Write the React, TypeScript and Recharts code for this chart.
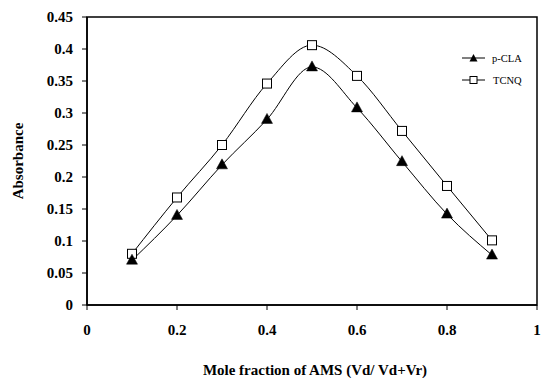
import React from 'react';
import { LineChart, Line, XAxis, YAxis, ReferenceArea } from 'recharts';

const moleFraction = [0.1, 0.2, 0.3, 0.4, 0.5, 0.6, 0.7, 0.8, 0.9];
const pCLA = [0.07, 0.14, 0.219, 0.29, 0.372, 0.308, 0.224, 0.142, 0.078];
const TCNQ = [0.08, 0.168, 0.25, 0.346, 0.406, 0.358, 0.272, 0.186, 0.101];
const xTicks = [0, 0.2, 0.4, 0.6, 0.8, 1];
const yTicks = [0, 0.05, 0.1, 0.15, 0.2, 0.25, 0.3, 0.35, 0.4, 0.45];
const seriesNames = ['p-CLA', 'TCNQ'];

const data = moleFraction.map((x, i) => ({ x, pCLA: pCLA[i], TCNQ: TCNQ[i] }));

const FONT = '"Liberation Serif", "Times New Roman", serif';

const Triangle = (props: any) => {
  const { cx, cy, index } = props;
  if (cx == null || cy == null) return <g key={`t-${index}`} />;
  const w = 11, h = 10;
  return (
    <path
      key={`t-${index}`}
      d={`M${cx},${cy - h / 2 - 1} L${cx + w / 2},${cy + h / 2 - 1} L${cx - w / 2},${cy + h / 2 - 1} Z`}
      fill="#000"
      stroke="#000"
      strokeWidth={0.5}
    />
  );
};

const Square = (props: any) => {
  const { cx, cy, index } = props;
  if (cx == null || cy == null) return <g key={`s-${index}`} />;
  const s = 9;
  return (
    <rect key={`s-${index}`} x={cx - s / 2} y={cy - s / 2} width={s} height={s} fill="#fff" stroke="#000" strokeWidth={1} />
  );
};

const LegendBox = () => (
  <svg width={80} height={40} style={{ position: 'absolute', left: 460, top: 50, overflow: 'visible' }}>
    <g>
      <line x1={2} y1={8} x2={25} y2={8} stroke="#000" strokeWidth={1} />
      <path d="M13.5,4 L17.5,11.5 L9.5,11.5 Z" fill="#000" />
      <text x={32} y={12} fontFamily={FONT} fontSize={10.5} fill="#000">{seriesNames[0]}</text>
    </g>
    <g>
      <line x1={2} y1={30} x2={25} y2={30} stroke="#000" strokeWidth={1} />
      <rect x={10} y={26.5} width={7} height={7} fill="#fff" stroke="#000" strokeWidth={1} />
      <text x={33} y={34} fontFamily={FONT} fontSize={10.5} fill="#000">{seriesNames[1]}</text>
    </g>
  </svg>
);

const tickStyle = { fontFamily: FONT, fontSize: 15, fontWeight: 'bold', fill: '#000' } as any;

export default function App() {
  return (
    <div style={{ position: 'absolute', left: 0, top: 0, width: 541, height: 378, background: '#fff' }}>
      <LineChart width={541} height={378} data={data} margin={{ top: 17, right: 4, bottom: 0, left: 0 }}>
        <XAxis
          dataKey="x"
          type="number"
          domain={[0, 1]}
          ticks={xTicks}
          tickFormatter={(v: number) => String(v)}
          height={73}
          tick={tickStyle}
          tickSize={5}
          tickMargin={14}
          axisLine={{ stroke: '#000', strokeWidth: 1.5 }}
          tickLine={{ stroke: '#000' }}
          label={{
            value: 'Mole fraction of AMS (Vd/ Vd+Vr)',
            position: 'insideBottom',
            offset: 3,
            dx: 3,
            style: { fontFamily: FONT, fontSize: 15, fontWeight: 'bold', fill: '#000' },
          }}
        />
        <YAxis
          type="number"
          domain={[0, 0.45]}
          ticks={yTicks}
          tickFormatter={(v: number) => String(v)}
          width={87}
          tick={tickStyle}
          tickSize={5}
          tickMargin={9}
          interval={0}
          axisLine={{ stroke: '#000', strokeWidth: 1.5 }}
          tickLine={{ stroke: '#000' }}
          label={{
            value: 'Absorbance',
            angle: -90,
            position: 'insideLeft',
            offset: 18,
            style: { fontFamily: FONT, fontSize: 15, fontWeight: 'bold', fill: '#000', textAnchor: 'middle' },
          }}
        />
        <ReferenceArea x1={0} x2={1} y1={0} y2={0.45} fill="none" stroke="#000" strokeWidth={1.5} ifOverflow="visible" />
        <Line
          type="monotone"
          dataKey="TCNQ"
          name={seriesNames[1]}
          stroke="#000"
          strokeWidth={1}
          dot={Square}
          activeDot={false}
          isAnimationActive={false}
        />
        <Line
          type="monotone"
          dataKey="pCLA"
          name={seriesNames[0]}
          stroke="#000"
          strokeWidth={1}
          dot={Triangle}
          activeDot={false}
          isAnimationActive={false}
        />
      </LineChart>
      <LegendBox />
    </div>
  );
}
